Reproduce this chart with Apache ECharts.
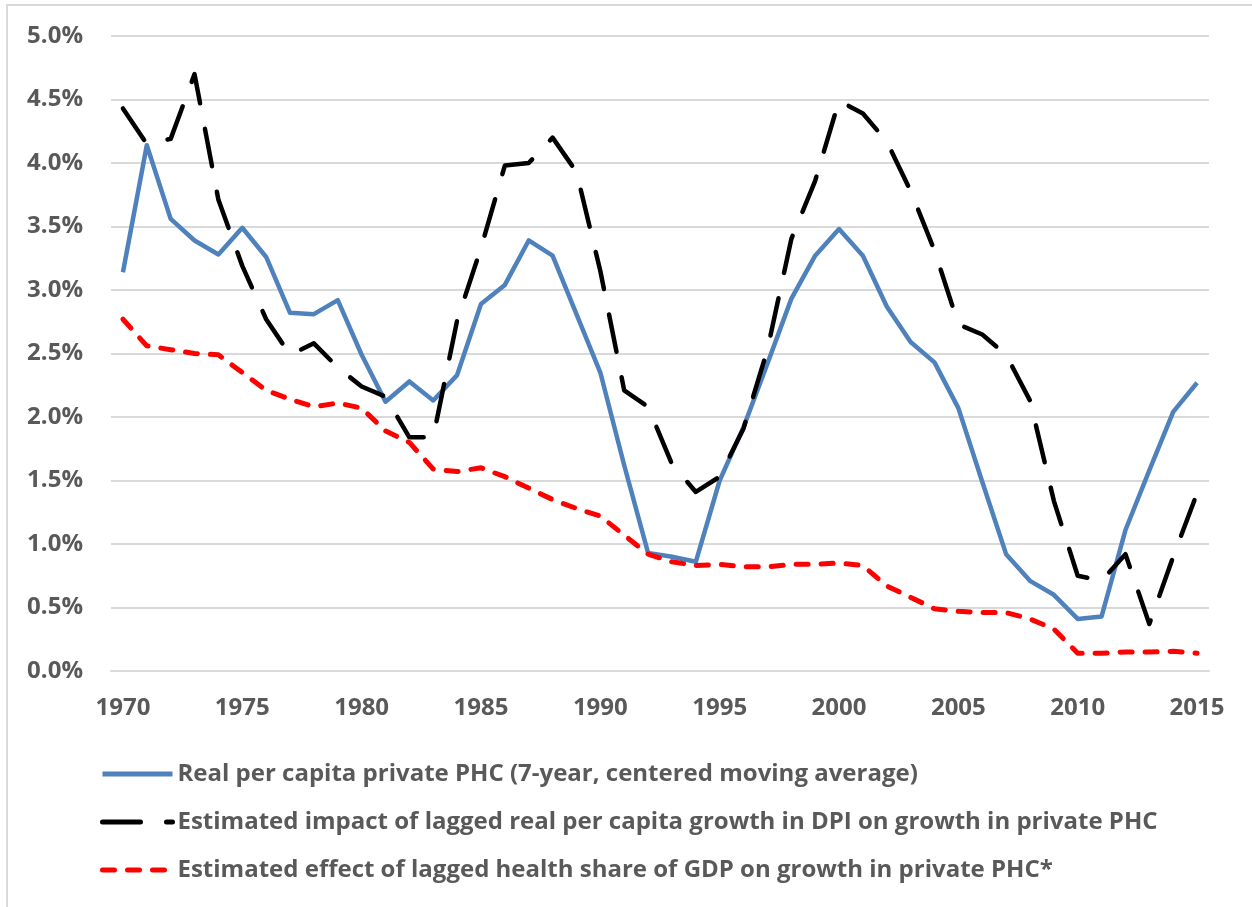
<!DOCTYPE html>
<html>
<head>
<meta charset="utf-8">
<script src="https://cdn.jsdelivr.net/npm/echarts@6/dist/echarts.min.js"></script>
<style>
    html, body { margin: 0; padding: 0; background: #fff; }
    #frame { position: absolute; left: 6px; top: 4px; width: 1400px; height: 1000px;
             border-left: 2px solid #d9d9d9; border-top: 2px solid #d9d9d9; }
    #chart { position: absolute; left: 0; top: 0; width: 1252px; height: 907px; }
</style>
</head>
<body>
<div id="frame"></div>
<div id="chart"></div>
<script>
    var years = ["1970","1971","1972","1973","1974","1975","1976","1977","1978","1979",
        "1980","1981","1982","1983","1984","1985","1986","1987","1988","1989",
        "1990","1991","1992","1993","1994","1995","1996","1997","1998","1999",
        "2000","2001","2002","2003","2004","2005","2006","2007","2008","2009",
        "2010","2011","2012","2013","2014","2015"];

    // growth rates, in percent
    var privatePhc = [3.14,4.14,3.56,3.39,3.28,3.49,3.26,2.82,2.81,2.92,
        2.49,2.12,2.28,2.13,2.33,2.89,3.04,3.39,3.27,2.81,
        2.35,1.62,0.93,0.90,0.86,1.50,1.92,2.42,2.93,3.27,
        3.48,3.27,2.87,2.59,2.43,2.07,1.49,0.92,0.71,0.60,
        0.41,0.43,1.11,1.58,2.04,2.27];

    var dpiImpact = [4.43,4.15,4.19,4.70,3.71,3.19,2.77,2.49,2.58,2.39,
        2.24,2.16,1.84,1.84,2.76,3.33,3.98,4.00,4.20,3.93,
        3.15,2.21,2.08,1.63,1.41,1.53,1.91,2.53,3.40,3.86,
        4.49,4.39,4.17,3.78,3.31,2.73,2.65,2.49,2.13,1.34,
        0.75,0.71,0.92,0.37,0.90,1.40];

    var healthShareEffect = [2.77,2.56,2.53,2.50,2.49,2.35,2.21,2.14,2.08,2.11,
        2.07,1.89,1.80,1.59,1.57,1.60,1.53,1.44,1.35,1.28,
        1.22,1.07,0.92,0.86,0.83,0.84,0.82,0.82,0.84,0.84,
        0.85,0.83,0.67,0.58,0.49,0.47,0.46,0.46,0.41,0.33,
        0.14,0.14,0.15,0.15,0.155,0.14];

    var seriesNames = [
        "Real per capita private PHC (7-year, centered moving average)",
        "Estimated impact of lagged real per capita growth in DPI on growth in private PHC",
        "Estimated effect of lagged health share of GDP on growth in private PHC*"
    ];

    var font = "Open Sans";
    var textColor = "#595959";

    var chart = echarts.init(document.getElementById("chart"));

    var option = {
        animation: false,
        textStyle: { fontFamily: font },
        grid: { left: 111, right: 43, top: 36, bottom: 236 },
        legend: {
            orient: 'vertical',
            left: 95,
            top: 757,
            itemWidth: 70,
            itemHeight: 14,
            itemGap: 24,
            itemStyle: { opacity: 0 },
            lineStyle: { width: 5 },
            data: seriesNames,
            textStyle: { fontFamily: font, fontSize: 24, fontWeight: 'bold', color: textColor }
        },
        xAxis: {
            type: 'category',
            data: years,
            boundaryGap: true,
            axisLine: { lineStyle: { color: '#d9d9d9', width: 2 } },
            axisTick: { show: false },
            axisLabel: { interval: 4, margin: 25, fontFamily: font, fontSize: 24, fontWeight: 'bold', color: textColor }
        },
        yAxis: {
            type: 'value',
            min: 0,
            max: 5,
            interval: 0.5,
            axisLine: { show: false },
            axisTick: { show: false },
            splitLine: { lineStyle: { color: '#d9d9d9', width: 2 } },
            axisLabel: {
                margin: 28,
                fontFamily: font, fontSize: 24, fontWeight: 'bold', color: textColor,
                formatter: function (v) { return v.toFixed(1) + "%"; }
            }
        },
        series: [
            {
                name: seriesNames[0],
                type: 'line',
                data: privatePhc,
                symbol: 'none',
                lineStyle: { color: '#4f81bd', width: 4.5, join: 'round' },
                itemStyle: { color: '#4f81bd' }
            },
            {
                name: seriesNames[1],
                type: 'line',
                data: dpiImpact,
                symbol: 'none',
                lineStyle: { color: '#000000', width: 4.5, type: [38, 26], cap: 'round', join: 'round' },
                itemStyle: { color: '#000000' }
            },
            {
                name: seriesNames[2],
                type: 'line',
                data: healthShareEffect,
                symbol: 'none',
                lineStyle: { color: '#ff0000', width: 5, type: [12, 13], cap: 'round', join: 'round' },
                itemStyle: { color: '#ff0000' }
            }
        ]
    };

    chart.setOption(option);
</script>
</body>
</html>
